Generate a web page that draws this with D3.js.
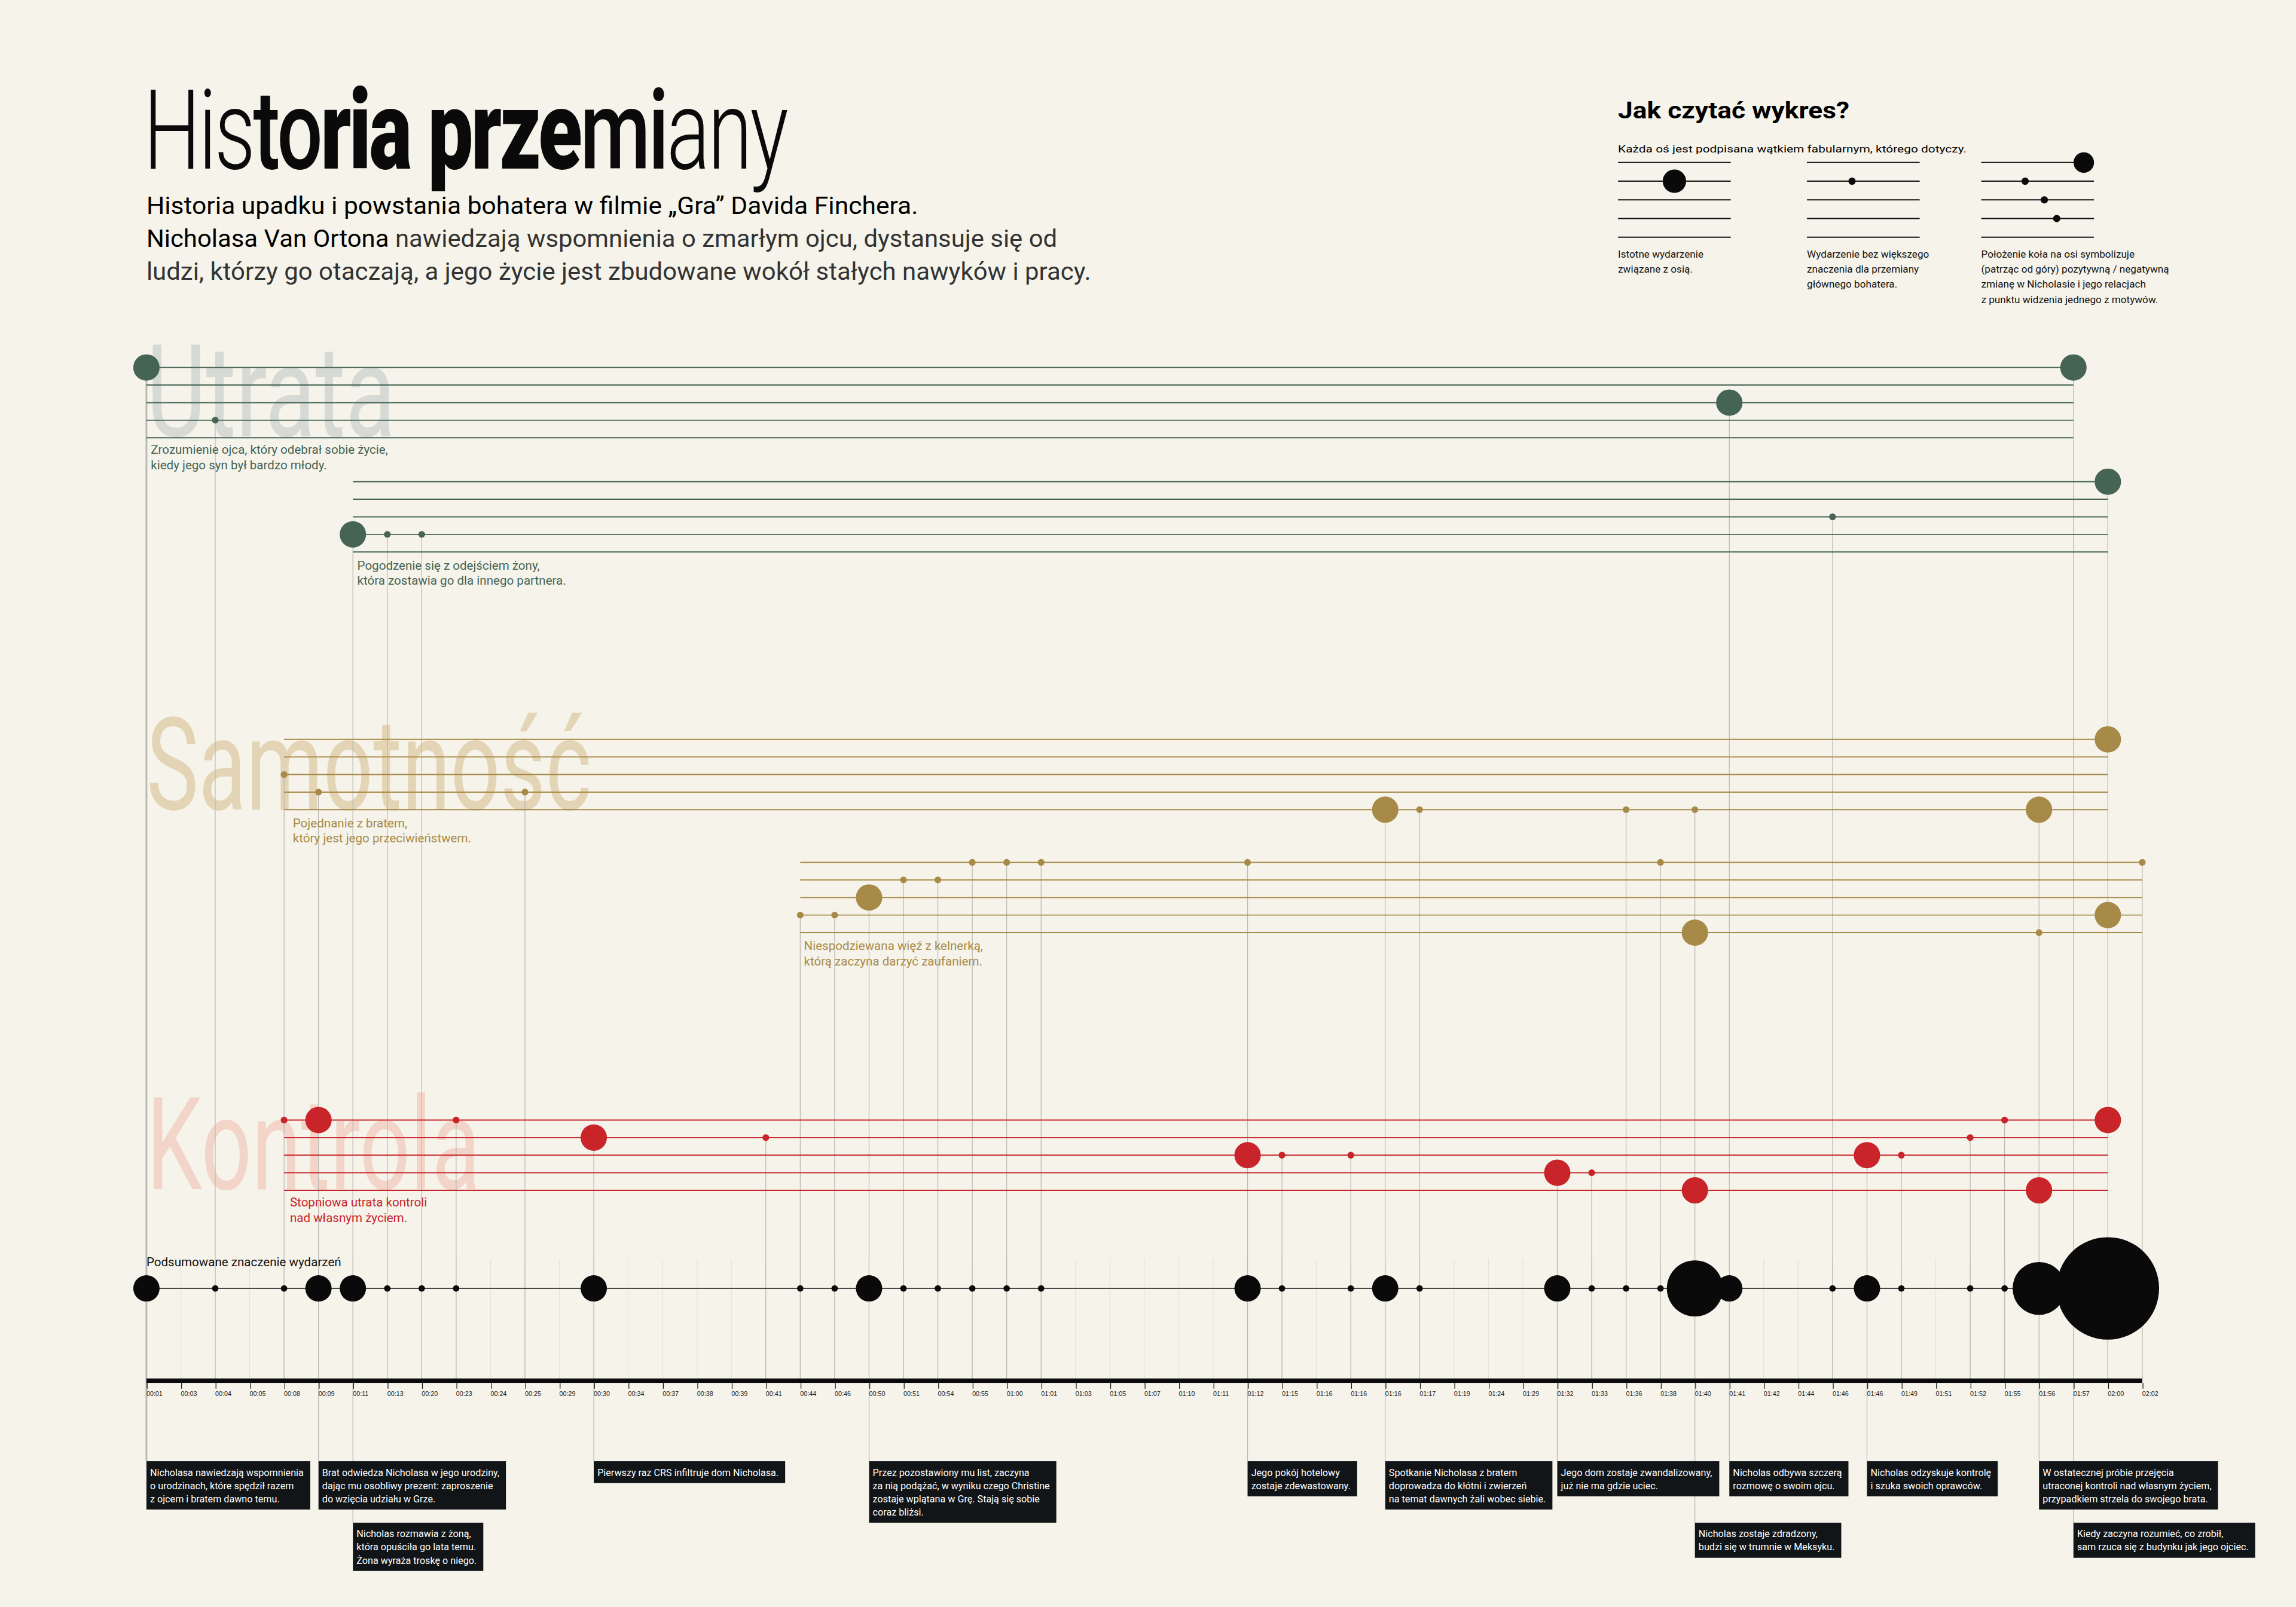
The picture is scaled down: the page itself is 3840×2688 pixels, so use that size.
<!DOCTYPE html>
<html>
<head>
<meta charset="utf-8">
<script src="https://cdn.jsdelivr.net/npm/d3@7"></script>
<style>
  html, body { margin: 0; padding: 0; background: #f5f3ea; }
  svg { display: block; font-family: Roboto, "Noto Sans", sans-serif; }
</style>
</head>
<body>
<svg id="chart"></svg>
<script>
// Timeline of "The Game"
const tickLabels = ["00:01","00:03","00:04","00:05","00:08","00:09","00:11","00:13","00:20","00:23",
  "00:24","00:25","00:29","00:30","00:34","00:37","00:38","00:39","00:41","00:44",
  "00:46","00:50","00:51","00:54","00:55","01:00","01:01","01:03","01:05","01:07",
  "01:10","01:11","01:12","01:15","01:16","01:16","01:16","01:17","01:19","01:24",
  "01:29","01:32","01:33","01:36","01:38","01:40","01:41","01:42","01:44","01:46",
  "01:46","01:49","01:51","01:52","01:55","01:56","01:57","02:00","02:02"];

// event dots: [tick index, lane (0 = top), big?]
const utrataA = [[0,0,1],[2,3,0],[46,2,1],[56,0,1]];
const utrataB = [[6,3,1],[7,3,0],[8,3,0],[49,2,0],[57,0,1]];
const samotnoscA = [[4,2,0],[5,3,0],[11,3,0],[36,4,1],[37,4,0],[43,4,0],[45,4,0],[55,4,1],[57,0,1]];
const samotnoscB = [[19,3,0],[20,3,0],[21,2,1],[22,1,0],[23,1,0],[24,0,0],[25,0,0],[26,0,0],
  [32,0,0],[44,0,0],[45,4,1],[55,4,0],[57,3,1],[58,0,0]];
const kontrola = [[4,0,0],[5,0,1],[9,0,0],[13,1,1],[18,1,0],[32,2,1],[33,2,0],[35,2,0],[41,3,1],
  [42,3,0],[45,4,1],[50,2,1],[51,2,0],[53,1,0],[54,0,0],[55,4,1],[57,0,1]];

// summed importance of events: [tick index, weight]
const summary = [[0,4],[2,1],[4,1],[5,4],[6,4],[7,1],[8,1],[9,1],[13,4],[19,1],[20,1],[21,4],
  [22,1],[23,1],[24,1],[25,1],[26,1],[32,4],[33,1],[35,1],[36,4],[37,1],[41,4],[42,1],[43,1],
  [44,1],[45,8.5],[46,4],[49,1],[50,4],[51,1],[53,1],[54,1],[55,8],[57,15.5]];

// annotations: [tick index, row, lines]
const notes = [
  [0,0,["Nicholasa nawiedzają wspomnienia","o urodzinach, które spędził razem","z ojcem i bratem dawno temu."]],
  [5,0,["Brat odwiedza Nicholasa w jego urodziny,","dając mu osobliwy prezent: zaproszenie","do wzięcia udziału w Grze."]],
  [6,1,["Nicholas rozmawia z żoną,","która opuściła go lata temu.","Żona wyraża troskę o niego."]],
  [13,0,["Pierwszy raz CRS infiltruje dom Nicholasa."]],
  [21,0,["Przez pozostawiony mu list, zaczyna","za nią podążać, w wyniku czego Christine","zostaje wplątana w Grę. Stają się sobie","coraz bliżsi."]],
  [32,0,["Jego pokój hotelowy","zostaje zdewastowany."]],
  [36,0,["Spotkanie Nicholasa z bratem","doprowadza do kłótni i zwierzeń","na temat dawnych żali wobec siebie."]],
  [41,0,["Jego dom zostaje zwandalizowany,","już nie ma gdzie uciec."]],
  [45,1,["Nicholas zostaje zdradzony,","budzi się w trumnie w Meksyku."]],
  [46,0,["Nicholas odbywa szczerą","rozmowę o swoim ojcu."]],
  [50,0,["Nicholas odzyskuje kontrolę","i szuka swoich oprawców."]],
  [55,0,["W ostatecznej próbie przejęcia","utraconej kontroli nad własnym życiem,","przypadkiem strzela do swojego brata."]],
  [56,1,["Kiedy zaczyna rozumieć, co zrobił,","sam rzuca się z budynku jak jego ojciec."]]
];

const W = 3840, H = 2688, S = W / 1568;
const svg = d3.select("#chart").attr("width", W).attr("height", H);
svg.append("rect").attr("width", W).attr("height", H).attr("fill", "#f5f3ea");
const g = svg.append("g").attr("transform", `scale(${S})`);

const x = d3.scalePoint().domain(d3.range(tickLabels.length)).range([100, 1463]);
const lane = d3.scaleLinear().domain([0, 4]).range([0, 48]);
const rSum = d3.scaleLinear().domain([1, 15.5]).range([2.2, 35]);

const axisY = 943, sumY = 880;

// groups with their vertical placement
const groups = [
  { data: utrataA, from: 0, to: 56, top: 251, color: "#456454" },
  { data: utrataB, from: 6, to: 57, top: 329, color: "#456454" },
  { data: samotnoscA, from: 4, to: 57, top: 505, color: "#a88a48" },
  { data: samotnoscB, from: 19, to: 58, top: 589, color: "#a88a48" },
  { data: kontrola, from: 4, to: 57, top: 765, color: "#c8242a" }
];

// big faint motif words
const words = [
  { t: "Utrata", y: 298, w: 170, c: "#d6d9d4" },
  { t: "Samotność", y: 553, w: 304, c: "#e3d4b5" },
  { t: "Kontrola", y: 812, w: 228, c: "#f2d4c8" }
];
g.selectAll(".word").data(words).enter().append("text")
  .attr("x", 100).attr("y", d => d.y).text(d => d.t)
  .attr("font-size", 88).attr("fill", d => d.c)
  .attr("textLength", d => d.w).attr("lengthAdjust", "spacingAndGlyphs");

// topmost point of each column, for vertical connectors
const colTop = {};
groups.forEach(gr => gr.data.forEach(d => {
  const y = gr.top + lane(d[1]);
  colTop[d[0]] = Math.min(colTop[d[0]] ?? 1e9, y);
}));
summary.forEach(d => { colTop[d[0]] = Math.min(colTop[d[0]] ?? 1e9, sumY); });
const colBottom = {};
notes.forEach(n => { colBottom[n[0]] = Math.max(colBottom[n[0]] ?? axisY, n[1] ? 1040 : 998); });

// faint guides at every tick
g.append("g").selectAll("line").data(d3.range(tickLabels.length)).enter().append("line")
  .attr("x1", d => x(d)).attr("x2", d => x(d))
  .attr("y1", 860).attr("y2", axisY)
  .attr("stroke", "#e6e3d8").attr("stroke-width", 0.5);

g.append("g").selectAll("line").data(Object.keys(colTop).map(Number)).enter().append("line")
  .attr("x1", d => x(d)).attr("x2", d => x(d))
  .attr("y1", d => colTop[d]).attr("y2", d => colBottom[d] ?? axisY)
  .attr("stroke", "#b9b8b2").attr("stroke-width", d => d === 0 ? 1.2 : 0.5);

// motif lanes and dots
groups.forEach(gr => {
  const gg = g.append("g");
  gg.selectAll("line").data(d3.range(5)).enter().append("line")
    .attr("x1", x(gr.from)).attr("x2", x(gr.to))
    .attr("y1", d => gr.top + lane(d)).attr("y2", d => gr.top + lane(d))
    .attr("stroke", gr.color).attr("stroke-width", 0.8);
  gg.selectAll("circle").data(gr.data).enter().append("circle")
    .attr("cx", d => x(d[0])).attr("cy", d => gr.top + lane(d[1]))
    .attr("r", d => d[2] ? 9 : 2.3).attr("fill", gr.color);
});

// motif captions
const captions = [
  { x: 103, y: 310, c: "#456454", t: ["Zrozumienie ojca, który odebrał sobie życie,", "kiedy jego syn był bardzo młody."] },
  { x: 244, y: 389, c: "#456454", t: ["Pogodzenie się z odejściem żony,", "która zostawia go dla innego partnera."] },
  { x: 200, y: 565, c: "#a88a48", t: ["Pojednanie z bratem,", "który jest jego przeciwieństwem."] },
  { x: 549, y: 649, c: "#a88a48", t: ["Niespodziewana więź z kelnerką,", "którą zaczyna darzyć zaufaniem."] },
  { x: 198, y: 824, c: "#c8242a", t: ["Stopniowa utrata kontroli", "nad własnym życiem."] }
];
captions.forEach(c => {
  const t = g.append("text").attr("x", c.x).attr("y", c.y).attr("fill", c.c).attr("font-size", 8.4);
  c.t.forEach((l, i) => t.append("tspan").attr("x", c.x).attr("dy", i ? 10.5 : 0).text(l));
});

// summary row
g.append("text").attr("x", 100).attr("y", 865).attr("font-size", 8.4).attr("fill", "#111")
  .text("Podsumowane znaczenie wydarzeń");
g.append("line").attr("x1", x(0)).attr("x2", x(57)).attr("y1", sumY).attr("y2", sumY)
  .attr("stroke", "#111").attr("stroke-width", 0.6);
g.append("g").selectAll("circle").data(summary).enter().append("circle")
  .attr("cx", d => x(d[0])).attr("cy", sumY).attr("r", d => rSum(d[1])).attr("fill", "#0a0a0a");

// time axis
g.append("rect").attr("x", 100).attr("y", axisY - 1.5).attr("width", 1363).attr("height", 3).attr("fill", "#0a0a0a");
const ax = g.append("g").attr("transform", `translate(0,${axisY + 1.5})`)
  .call(d3.axisBottom(x).tickSize(4).tickSizeOuter(0).tickFormat(i => tickLabels[i]));
ax.select(".domain").remove();
ax.selectAll("line").attr("stroke", "#111").attr("stroke-width", 0.5);
ax.selectAll("text").attr("font-size", 4.4).attr("fill", "#222").attr("dy", 2)
  .attr("text-anchor", "start").attr("dx", -0.5);

// annotation boxes
notes.forEach(n => {
  const bx = x(n[0]), by = n[1] ? 1040 : 998;
  const bg = g.append("g");
  const rect = bg.append("rect").attr("fill", "#121517");
  const t = bg.append("text").attr("fill", "#fff").attr("font-size", 6.6).attr("y", by + 10);
  n[2].forEach((l, i) => t.append("tspan").attr("x", bx + 2.5).attr("dy", i ? 9 : 0).text(l));
  const bb = t.node().getBBox();
  rect.attr("x", bx).attr("y", by).attr("width", bb.width + 7).attr("height", n[2].length * 9 + 6);
});

// title and intro
const title = g.append("text").attr("x", 98).attr("y", 115).attr("font-size", 76).attr("fill", "#0a0a0a")
  .attr("letter-spacing", -2).attr("textLength", 439).attr("lengthAdjust", "spacingAndGlyphs");
[["His", 300], ["to", 500], ["ria prze", 900], ["mi", 500], ["any", 300]]
  .forEach(p => title.append("tspan").attr("font-weight", p[1]).text(p[0]));

const intro = [
  { t: [["Historia upadku i powstania bohatera w filmie „Gra” Davida Finchera.", "#000"]], w: 527 },
  { t: [["Nicholasa Van Ortona", "#000"], [" nawiedzają wspomnienia o zmarłym ojcu, dystansuje się od", "#333"]], w: 622 },
  { t: [["ludzi, którzy go otaczają, a jego życie jest zbudowane wokół stałych nawyków i pracy.", "#333"]], w: 645 }
];
intro.forEach((l, i) => {
  const t = g.append("text").attr("x", 100).attr("y", 146 + i * 22.5).attr("font-size", 16.5)
    .attr("textLength", l.w).attr("lengthAdjust", "spacingAndGlyphs");
  l.t.forEach(p => t.append("tspan").attr("fill", p[1]).text(p[0]));
});

// legend
const lg = g.append("g");
lg.append("text").attr("x", 1105).attr("y", 81).attr("font-size", 16).attr("font-weight", 700)
  .attr("textLength", 158).attr("lengthAdjust", "spacingAndGlyphs").text("Jak czytać wykres?");
lg.append("text").attr("x", 1105).attr("y", 104).attr("font-size", 6.8)
  .attr("textLength", 238).attr("lengthAdjust", "spacingAndGlyphs")
  .text("Każda oś jest podpisana wątkiem fabularnym, którego dotyczy.");
const legendSets = [
  { x0: 1105, dots: [[0.5, 1, 8]], cap: ["Istotne wydarzenie", "związane z osią."] },
  { x0: 1234, dots: [[0.4, 1, 2.5]], cap: ["Wydarzenie bez większego", "znaczenia dla przemiany", "głównego bohatera."] },
  { x0: 1353, dots: [[0.91, 0, 7], [0.39, 1, 2.5], [0.56, 2, 2.5], [0.67, 3, 2.5]],
    cap: ["Położenie koła na osi symbolizuje", "(patrząc od góry) pozytywną / negatywną", "zmianę w Nicholasie i jego relacjach", "z punktu widzenia jednego z motywów."] }
];
const lLane = d3.scaleLinear().domain([0, 4]).range([111, 162]);
legendSets.forEach(s => {
  lg.append("g").selectAll("line").data(d3.range(5)).enter().append("line")
    .attr("x1", s.x0).attr("x2", s.x0 + 77).attr("y1", d => lLane(d)).attr("y2", d => lLane(d))
    .attr("stroke", "#111").attr("stroke-width", 0.8);
  lg.append("g").selectAll("circle").data(s.dots).enter().append("circle")
    .attr("cx", d => s.x0 + d[0] * 77).attr("cy", d => lLane(d[1])).attr("r", d => d[2]).attr("fill", "#0a0a0a");
  const t = lg.append("text").attr("x", s.x0).attr("y", 176).attr("font-size", 7).attr("fill", "#111");
  s.cap.forEach((l, i) => t.append("tspan").attr("x", s.x0).attr("dy", i ? 10.3 : 0).text(l));
});
</script>
</body>
</html>
